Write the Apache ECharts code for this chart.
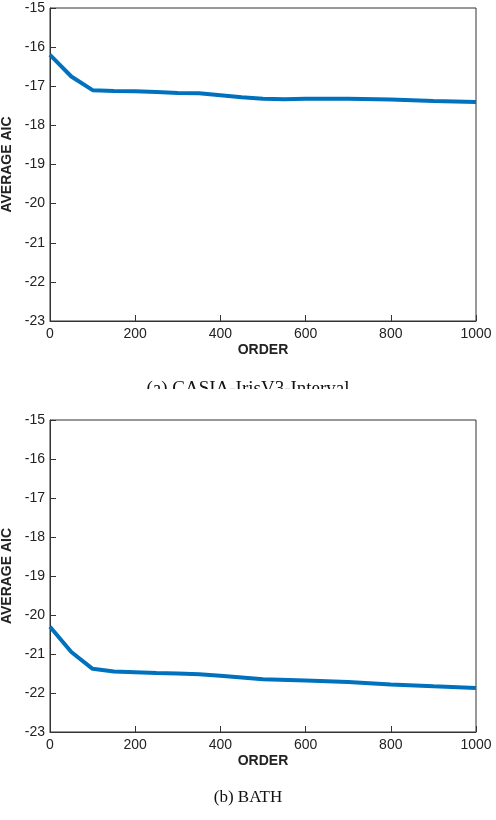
<!DOCTYPE html>
<html><head><meta charset="utf-8">
<script src="https://cdn.jsdelivr.net/npm/echarts@6/dist/echarts.min.js"></script>
<style>html,body{margin:0;padding:0;background:#fff}#c{width:496px;height:820px}</style>
</head><body><div id="c"></div>
<script>
const orderA = [0,50,100,150,200,250,300,350,400,450,500,550,600,700,800,900,1000];
const aicA = [-16.2,-16.75,-17.1,-17.12,-17.13,-17.15,-17.17,-17.18,-17.23,-17.28,-17.32,-17.33,-17.32,-17.32,-17.34,-17.38,-17.4];
const orderB = [0,50,100,150,200,250,300,350,400,450,500,600,700,800,900,1000];
const aicB = [-20.3,-20.95,-21.38,-21.45,-21.47,-21.49,-21.5,-21.52,-21.56,-21.6,-21.65,-21.68,-21.72,-21.78,-21.83,-21.87];
const captionA = "(a) CASIA-IrisV3-Interval";
const captionB = "(b) BATH";
const font = "Liberation Sans";
function xA(i){return {gridIndex:i,type:'value',min:0,max:1000,interval:200,
  name:'ORDER',nameLocation:'middle',nameGap:22,nameTextStyle:{fontFamily:font,fontWeight:'bold',fontSize:14,color:'#222'},
  axisLine:{onZero:false,lineStyle:{color:'#333'}},axisTick:{inside:true,length:6,lineStyle:{color:'#333'}},
  axisLabel:{fontFamily:font,fontSize:14,color:'#222',margin:6,formatter:v=>String(v)},splitLine:{show:false}};}
function yA(i){return {gridIndex:i,type:'value',min:-23,max:-15,interval:1,
  name:'AVERAGE AIC',nameLocation:'middle',nameGap:32,nameTextStyle:{fontFamily:font,fontWeight:'bold',fontSize:14,color:'#222'},
  axisLine:{lineStyle:{color:'#333'}},axisTick:{inside:true,length:6,lineStyle:{color:'#333'}},
  axisLabel:{fontFamily:font,fontSize:14,color:'#222',margin:5},splitLine:{show:false}};}
const ch = echarts.init(document.getElementById('c'));
ch.setOption({
  animation:false,
  grid:[{left:50,width:426,top:8,height:313,show:true,borderColor:'#333',borderWidth:1,outerBoundsMode:'none',containLabel:false},
        {left:50,width:426,top:420,height:312,show:true,borderColor:'#333',borderWidth:1,outerBoundsMode:'none',containLabel:false}],
  xAxis:[xA(0),xA(1)],
  yAxis:[yA(0),yA(1)],
  series:[
    {type:'line',xAxisIndex:0,yAxisIndex:0,data:orderA.map((x,i)=>[x,aicA[i]]),showSymbol:false,lineStyle:{color:'#0072BD',width:4}},
    {type:'line',xAxisIndex:1,yAxisIndex:1,data:orderB.map((x,i)=>[x,aicB[i]]),showSymbol:false,lineStyle:{color:'#0072BD',width:4}}
  ],
  graphic:[
    {type:'text',left:'center',top:380,style:{text:captionA,font:'19px "Liberation Serif"',fill:'#111'}},
    {type:'rect',shape:{x:0,y:389,width:496,height:20},style:{fill:'#fff'},z:100},
    {type:'text',left:'center',top:789,style:{text:captionB,font:'17px "Liberation Serif"',fill:'#111'}}
  ]
});
</script></body></html>
